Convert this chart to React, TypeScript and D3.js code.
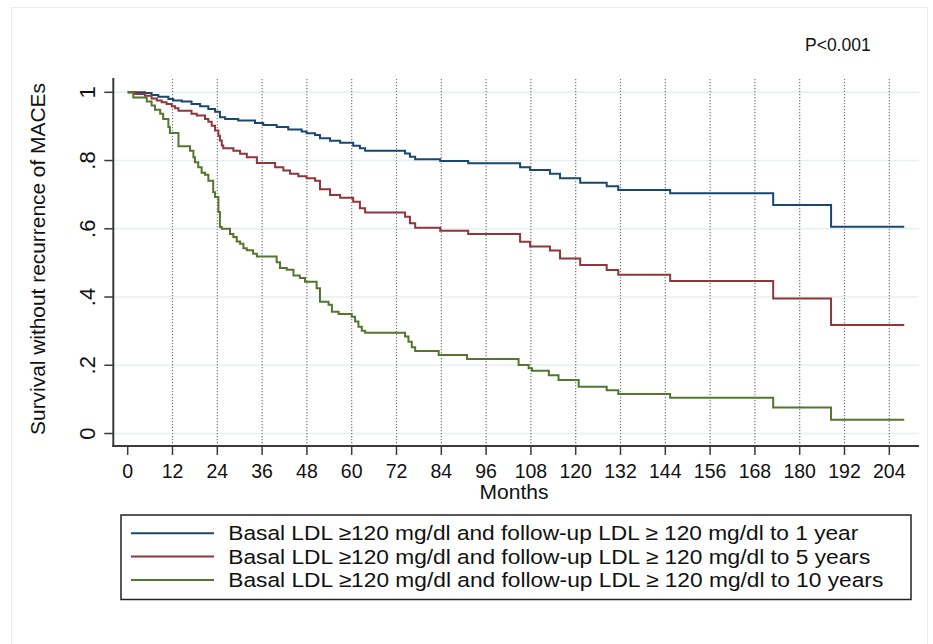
import React from "react";
import * as d3 from "d3";

// ---- data ----
const xTicks = [0, 12, 24, 36, 48, 60, 72, 84, 96, 108, 120, 132, 144, 156, 168, 180, 192, 204];
const yTicks = [0, 0.2, 0.4, 0.6, 0.8, 1];
const yTickLabels = ["0", ".2", ".4", ".6", ".8", "1"];
const followEnd = 208;

const seriesNames = [
  "Basal LDL \u2265120 mg/dl and follow-up LDL \u2265 120 mg/dl to 1 year",
  "Basal LDL \u2265120 mg/dl and follow-up LDL \u2265 120 mg/dl to 5 years",
  "Basal LDL \u2265120 mg/dl and follow-up LDL \u2265 120 mg/dl to 10 years",
];
const seriesColors = ["#1a476f", "#90353b", "#55752f"];

const blueTimes = [0, 4.6, 6.4, 8.2, 10.9, 12.2, 14.5, 17.1, 19.4, 21.6, 23.4, 24.7, 26.1, 29.6, 34.1, 36.3, 39.9, 43.0, 46.6, 47.9, 50.2, 51.5, 54.2, 56.9, 60.4, 62.2, 63.6, 74.3, 75.6, 77.0, 83.7, 91.2, 105.1, 107.8, 113.1, 115.8, 121.2, 128.3, 131.4, 145.3, 172.9, 188.4];
const blueSurv = [1.0, 0.998, 0.992, 0.987, 0.98, 0.976, 0.973, 0.966, 0.959, 0.951, 0.943, 0.927, 0.922, 0.917, 0.91, 0.904, 0.898, 0.891, 0.885, 0.88, 0.875, 0.865, 0.858, 0.852, 0.843, 0.836, 0.829, 0.821, 0.811, 0.804, 0.799, 0.792, 0.78, 0.772, 0.761, 0.748, 0.735, 0.725, 0.714, 0.704, 0.67, 0.606];

const redTimes = [0, 2.0, 4.6, 6.4, 7.8, 9.1, 10.4, 11.8, 12.7, 13.6, 17.1, 18.5, 20.7, 21.6, 22.5, 23.4, 24.3, 24.7, 25.2, 25.6, 28.3, 30.1, 31.9, 34.6, 39.5, 41.7, 43.5, 45.7, 47.9, 50.2, 51.5, 54.2, 56.9, 60.4, 62.2, 63.6, 74.3, 75.6, 77.0, 83.7, 91.2, 105.1, 107.8, 113.1, 115.8, 121.2, 128.3, 131.4, 145.3, 172.9, 188.4];
const redSurv = [1.0, 0.995, 0.99, 0.982, 0.976, 0.971, 0.966, 0.959, 0.953, 0.946, 0.937, 0.932, 0.922, 0.914, 0.902, 0.888, 0.873, 0.859, 0.844, 0.836, 0.829, 0.82, 0.81, 0.793, 0.78, 0.771, 0.761, 0.754, 0.748, 0.741, 0.716, 0.699, 0.691, 0.679, 0.66, 0.648, 0.635, 0.616, 0.603, 0.594, 0.585, 0.562, 0.548, 0.536, 0.513, 0.494, 0.479, 0.465, 0.447, 0.396, 0.318];

const greenTimes = [0, 1.5, 5.1, 6.4, 7.3, 8.7, 9.5, 10.9, 11.3, 13.6, 16.7, 17.6, 18.0, 18.9, 19.8, 20.7, 21.6, 22.9, 23.4, 24.3, 24.7, 25.2, 27.4, 28.3, 29.2, 30.1, 31.0, 31.9, 33.6, 34.6, 39.9, 40.8, 42.6, 44.4, 46.1, 47.5, 50.6, 51.5, 53.8, 54.7, 56.5, 60.0, 60.9, 61.8, 62.7, 63.6, 74.3, 75.2, 76.1, 77.0, 83.3, 90.9, 104.7, 107.4, 108.3, 112.8, 115.4, 120.8, 128.3, 131.4, 145.3, 172.9, 188.4];
const greenSurv = [1.0, 0.985, 0.973, 0.961, 0.949, 0.937, 0.922, 0.898, 0.881, 0.842, 0.829, 0.81, 0.795, 0.78, 0.764, 0.758, 0.741, 0.707, 0.693, 0.649, 0.605, 0.6, 0.585, 0.576, 0.563, 0.556, 0.543, 0.537, 0.527, 0.519, 0.502, 0.485, 0.48, 0.463, 0.456, 0.445, 0.426, 0.386, 0.377, 0.357, 0.35, 0.342, 0.328, 0.313, 0.301, 0.295, 0.284, 0.269, 0.253, 0.242, 0.23, 0.218, 0.201, 0.191, 0.184, 0.171, 0.157, 0.137, 0.127, 0.116, 0.105, 0.076, 0.04];

const seriesTimes = [blueTimes, redTimes, greenTimes];
const seriesSurv = [blueSurv, redSurv, greenSurv];
const legendTextWidths = [630, 642, 655];

const FONT = "'Liberation Sans', Arial, sans-serif";

export default function App() {
  const W = 933, H = 644;
  const x = d3.scaleLinear().domain([0, 204]).range([127.7, 889.3]);
  const y = d3.scaleLinear().domain([0, 1]).range([433.5, 92.3]);
  const plotTop = 78;
  const axisY = 446;
  const axisX = 113.3;
  const plotRight = 919;

  const line = d3
    .line<[number, number]>()
    .x((d) => x(d[0]))
    .y((d) => y(d[1]))
    .curve(d3.curveStepAfter);

  const paths = seriesTimes.map((times, i) => {
    const pts: [number, number][] = times.map((t, j) => [t, seriesSurv[i][j]]);
    pts.push([followEnd, seriesSurv[i][seriesSurv[i].length - 1]]);
    return line(pts) || "";
  });

  return (
    <svg
      width={W}
      height={H}
      style={{ position: "absolute", left: 0, top: 0, background: "#fff" }}
      fontFamily={FONT}
    >
      <rect x={0} y={0} width={W} height={H} fill="#fff" />
      <rect x={11.5} y={7.5} width={916} height={660} fill="none" stroke="#ececec" strokeWidth={1} />

      {/* horizontal grid */}
      {yTicks.map((t) => (
        <line key={"hg" + t} x1={axisX} x2={plotRight} y1={y(t)} y2={y(t)} stroke="#e6eff1" strokeWidth={1.6} />
      ))}
      {/* vertical dotted lines */}
      {xTicks.filter((t) => t > 0).map((t) => (
        <line
          key={"vg" + t}
          x1={x(t)}
          x2={x(t)}
          y1={plotTop + 1}
          y2={axisY - 2}
          stroke="#777"
          strokeWidth={1.2}
          strokeDasharray="1.2,1.8"
        />
      ))}

      {/* curves */}
      {paths.map((d, i) => (
        <path key={"p" + i} d={d} fill="none" stroke={seriesColors[i]} strokeWidth={2} strokeLinejoin="miter" />
      ))}

      {/* axes */}
      <line x1={axisX} x2={axisX} y1={plotTop} y2={axisY + 1} stroke="#3a3a3a" strokeWidth={2} />
      <line x1={axisX - 1} x2={plotRight} y1={axisY} y2={axisY} stroke="#3a3a3a" strokeWidth={2} />

      {yTicks.map((t, i) => (
        <g key={"yt" + t}>
          <line x1={axisX - 9} x2={axisX} y1={y(t)} y2={y(t)} stroke="#3a3a3a" strokeWidth={1.5} />
          <text
            transform={`translate(95,${y(t)}) rotate(-90)`}
            textAnchor="middle"
            fontSize={22}
            fill="#111"
          >
            {yTickLabels[i]}
          </text>
        </g>
      ))}
      {xTicks.map((t) => (
        <g key={"xt" + t}>
          <line x1={x(t)} x2={x(t)} y1={axisY} y2={axisY + 9} stroke="#3a3a3a" strokeWidth={1.5} />
          <text x={x(t)} y={478} textAnchor="middle" fontSize={19.5} fill="#111">
            {t}
          </text>
        </g>
      ))}

      <text x={514} y={499} textAnchor="middle" fontSize={21} fill="#111">
        Months
      </text>
      <text transform="translate(45,259) rotate(-90)" textAnchor="middle" fontSize={20.9} fill="#111">
        Survival without recurrence of MACEs
      </text>

      <text x={805} y={50.7} fontSize={17.5} fill="#111">
        P&lt;0.001
      </text>

      {/* legend */}
      <rect x={121} y={515} width={790} height={84.5} fill="#fff" stroke="#222" strokeWidth={1.5} />
      {seriesNames.map((n, i) => (
        <g key={"lg" + i}>
          <line x1={131} x2={214} y1={533.3 + i * 23.3} y2={533.3 + i * 23.3} stroke={seriesColors[i]} strokeWidth={2} />
          <text
            x={228.3}
            y={533.3 + i * 23.3 + 7}
            fontSize={20.5}
            fill="#111"
            textLength={legendTextWidths[i]}
            lengthAdjust="spacingAndGlyphs"
          >
            {n}
          </text>
        </g>
      ))}
    </svg>
  );
}
